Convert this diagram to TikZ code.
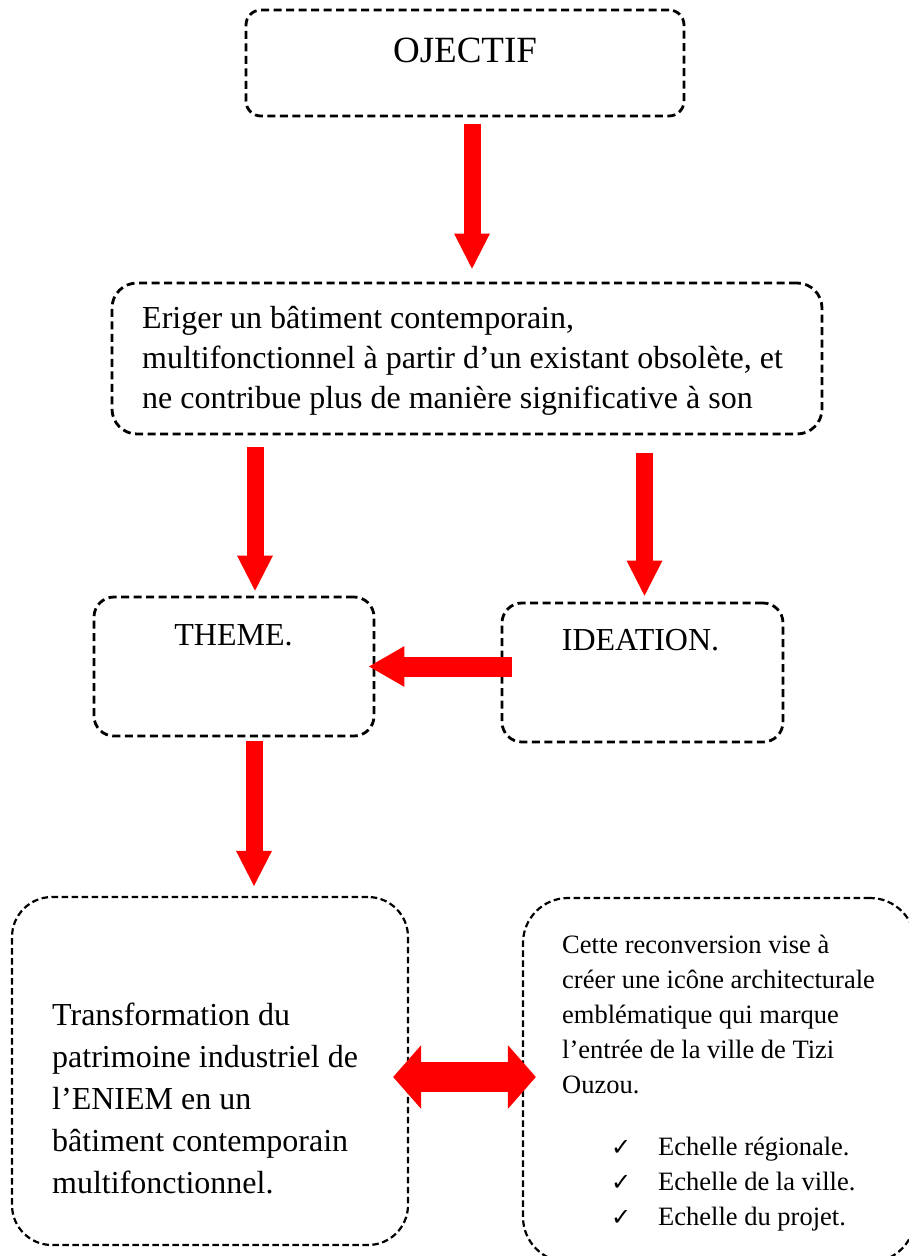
\documentclass[tikz,border=0pt]{standalone}
\usepackage{fontspec}
\setmainfont{Liberation Serif}
\newfontfamily\symfont{DejaVu Sans}
\usetikzlibrary{positioning,arrows.meta,calc}
\tikzset{
  bigarrow/.style={-{Triangle[length=36pt, width=33pt]}, line width=17pt, red},
  sidearrow/.style={-{Triangle[length=36pt, width=38pt]}, line width=20pt, red},
  bothways/.style={{Triangle[length=28pt, width=62pt]}-{Triangle[length=28pt, width=62pt]}, line width=30pt, red},
  dashbox/.style={draw, line width=2.8pt, dash pattern=on 8pt off 4.5pt, rounded corners=#1},
  thinbox/.style={draw, line width=2.2pt, dash pattern=on 6.5pt off 3.5pt, rounded corners=#1},
  titletxt/.style={font=\fontsize{37}{44}\selectfont, inner sep=0pt},
  bodytxt/.style={font=\fontsize{32}{40}\selectfont, align=left, inner sep=0pt},
  smalltxt/.style={font=\fontsize{26.5}{35}\selectfont, align=left, inner sep=0pt}
}
\newcommand{\tick}{\makebox[47pt][l]{\symfont\fontsize{24}{35}\selectfont ✓}}

\begin{document}
\begin{tikzpicture}[x=1pt, y=1pt]
  \useasboundingbox (0,0) rectangle (908,-1256);

  \node[dashbox=15pt, minimum width=438pt, minimum height=106pt] (obj) at (465,-63) {};
  \node[dashbox=25pt, minimum width=710pt, minimum height=151pt] (goal) at (467,-358.5) {};
  \node[dashbox=20pt, minimum width=280pt, minimum height=139pt] (theme) at (234,-666.5) {};
  \node[dashbox=20pt, minimum width=281pt, minimum height=139pt] (idea) at (642.5,-672.5) {};
  \node[thinbox=40pt, minimum width=396pt, minimum height=348pt] (trans) at (210,-1071) {};
  \node[thinbox=45pt, minimum width=392pt, minimum height=364pt] (icon) at (719,-1080) {};

  % multi-line nodes sit on the baseline of their last line
  \node[titletxt, anchor=base] (objtxt) at (465,-62) {OJECTIF};
  \node[bodytxt, anchor=base west] (goaltxt) at (142,-408) {Eriger un bâtiment contemporain,\\
    multifonctionnel à partir d’un existant obsolète, et\\
    ne contribue plus de manière significative à son};
  \node[bodytxt, anchor=base] (themetxt) at (233.5,-645) {THEME.};
  \node[bodytxt, anchor=base] (ideatxt) at (640.5,-650) {IDEATION.};
  \node[bodytxt, font=\fontsize{32}{42}\selectfont, anchor=base west] (transtxt) at (52,-1193) {Transformation du\\
    patrimoine industriel de\\ l’ENIEM en un\\ bâtiment contemporain\\ multifonctionnel.};
  \node[smalltxt, anchor=base west] (icontxt) at (562,-1093) {Cette reconversion vise à\\
    créer une icône architecturale\\ emblématique qui marque\\
    l’entrée de la ville de Tizi\\ Ouzou.};
  \node[smalltxt, anchor=base west] (scales) at (611,-1225) {\tick Echelle régionale.\\
    \tick Echelle de la ville.\\ \tick Echelle du projet.};

  \draw[bigarrow] ([xshift=7pt, yshift=-7pt]obj.south) -- ([xshift=5pt, yshift=12pt]goal.north);
  \draw[bigarrow] ($(theme.north |- goal.south)+(21,-12)$) -- ($(theme.north)+(21,4)$);
  \draw[bigarrow] ($(idea.north |- goal.south)+(2,-18)$) -- ($(idea.north)+(2,5)$);
  \draw[sidearrow] ($(theme.east -| idea.west)+(11,0)$) -- ($(theme.east)+(-7,0)$);
  \draw[bigarrow] ($(theme.south)+(20,-4)$) -- ($(theme.south |- trans.north)+(20,9)$);
  \draw[bothways] ($(trans.east)+(-16,-6)$) -- ($(trans.east -| icon.west)+(14,-6)$);
\end{tikzpicture}
\end{document}
